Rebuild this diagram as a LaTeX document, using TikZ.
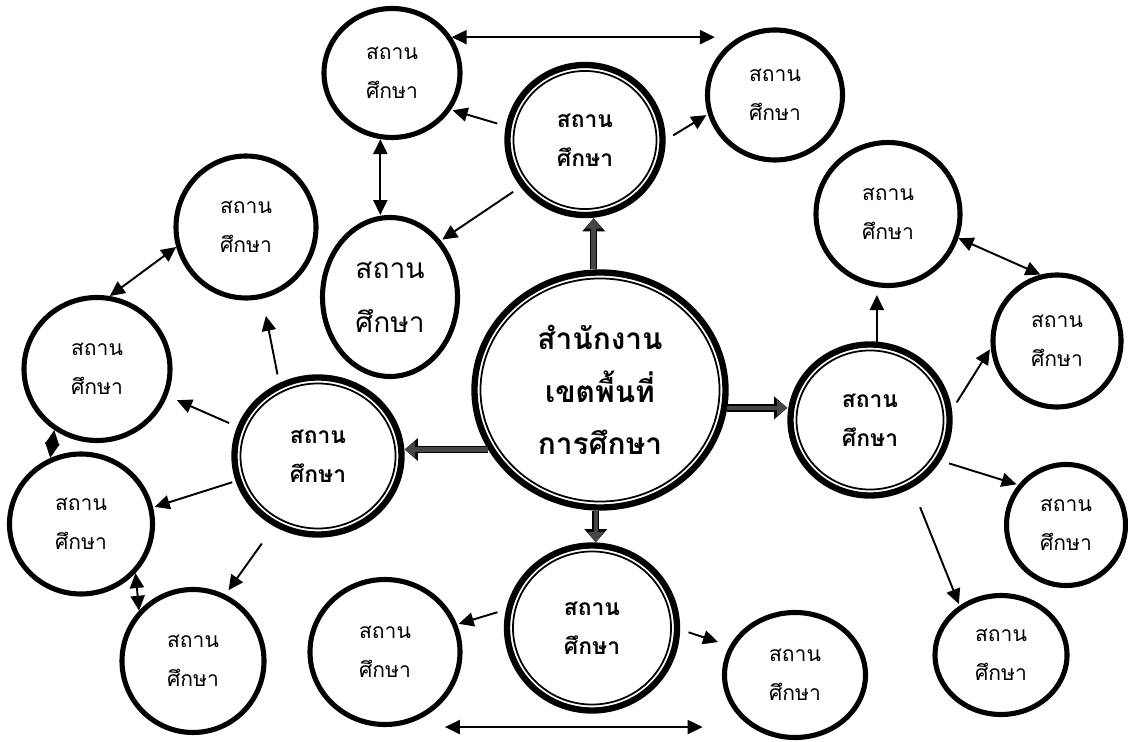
\documentclass[tikz,border=0pt]{standalone}
\usepackage{fontspec}
\newfontfamily\thai[Script=Thai]{Loma}
\usetikzlibrary{shapes.geometric,arrows.meta,calc}
\tikzset{every node/.style={ellipse,draw,line width=2.9pt,inner sep=0pt,align=center,font=\thai\fontsize{12}{22.5}\selectfont}}
\tikzset{sz/.style 2 args={minimum width=(#1-5)*0.02cm,minimum height=(#2-5)*0.02cm}}
\tikzset{ring/.style={line width=3.6pt,font=\thai\bfseries\fontsize{13}{22}\selectfont,
  path picture={\draw[line width=1pt] let \p1=(path picture bounding box.north east),\p2=(path picture bounding box.center)
    in (\p2) ellipse ({\x1-\x2-3.4pt} and {\y1-\y2-3.4pt});}}}
\tikzset{arr/.style={line width=1.1pt,-{Triangle[length=8.5pt,width=8pt]},shorten <=5pt,shorten >=1pt}}
\tikzset{dbl/.style={line width=1.1pt,{Triangle[length=8.5pt,width=8pt]}-{Triangle[length=8.5pt,width=8pt]}}}
\tikzset{big/.style={line width=2.6pt,draw=gray!55!black,-{Triangle[length=6pt,width=9pt]},
  preaction={draw=black,line width=4.2pt,-{Triangle[length=7.5pt,width=12.5pt]}}}}

\begin{document}
\begin{tikzpicture}[x=0.02cm,y=-0.02cm]
  \useasboundingbox (0,0) rectangle (1128,742);
  \node[ring,sz={256}{240},font=\thai\bfseries\fontsize{17}{30}\selectfont] (hub) at (600,390) {สำนักงาน\\เขตพื้นที่\\การศึกษา};
  \node[ring,sz={160}{155}] (ringN) at (585,140) {สถาน\\ศึกษา};
  \node[ring,sz={172}{162}] (ringW) at (318,456) {สถาน\\ศึกษา};
  \node[ring,sz={164}{156}] (ringE) at (870,420) {สถาน\\ศึกษา};
  \node[ring,sz={175}{170}] (ringS) at (592,628) {สถาน\\ศึกษา};

  \node[sz={141}{134}] (tl) at (392,73) {สถาน\\ศึกษา};
  \node[sz={140}{135}] (tr) at (775,95) {สถาน\\ศึกษา};
  \node[sz={140}{164},font=\thai\fontsize{16}{31}\selectfont] (tm) at (390,297) {สถาน\\ศึกษา};
  \node[sz={145}{147}] (l1) at (246,227) {สถาน\\ศึกษา};
  \node[sz={151}{148}] (l2) at (97,369) {สถาน\\ศึกษา};
  \node[sz={148}{145}] (l3) at (81,524) {สถาน\\ศึกษา};
  \node[sz={147}{148}] (bl) at (193,661) {สถาน\\ศึกษา};
  \node[sz={155}{150}] (bml) at (385,652) {สถาน\\ศึกษา};
  \node[sz={146}{130}] (bmr) at (795,675) {สถาน\\ศึกษา};
  \node[sz={149}{148}] (r1) at (888,214) {สถาน\\ศึกษา};
  \node[sz={133}{137}] (r2) at (1057,341) {สถาน\\ศึกษา};
  \node[sz={124}{126}] (r3) at (1066,525) {สถาน\\ศึกษา};
  \node[sz={137}{124}] (r4) at (1001,655) {สถาน\\ศึกษา};

  \draw[big] (hub.93) -- (hub.93 |- ringN.south);
  \draw[big] (hub.268) -- (hub.268 |- ringS.north);
  \draw[big] (hub.208) -- (hub.208 -| ringW.east);
  \draw[big] (hub.-8) -- (hub.-8 -| ringE.west);

  \draw[arr] (ringN.170) -- (tl.-32);
  \draw[arr] (ringN.0) -- (tr.196);
  \draw[arr] (ringN.216) -- (tm.48);
  \draw[dbl] (tl.31) -- (tl.31 -| tr.150);
  \draw[dbl] (tl.-100) -- (tl.-100 |- tm.north);

  \draw[arr,shorten >=10pt] (ringW.118) -- (l1.-77);
  \draw[arr,shorten >=6pt] (ringW.160) -- (l2.-21);
  \draw[arr,shorten <=2pt] (ringW.197) -- (l3.13);
  \draw[arr,shorten <=12pt,shorten >=3pt] (ringW.238) -- (bl.64);
  \draw[dbl] (l1.196) -- (l2.80);
  \draw[dbl] (l2.235) -- (l3.115);
  \draw[dbl] (l3.-42) -- (bl.137);

  \draw[arr,shorten <=0pt,shorten >=4pt] (ringE.85) -- (ringE.85 |- r1.south);
  \draw[arr] (ringE.7) -- (r2.186);
  \draw[arr] (ringE.-30) -- (r3.140);
  \draw[arr,shorten <=12pt] (ringE.-58) -- (r4.130);
  \draw[dbl] (r1.-19) -- (r2.104);

  \draw[arr] (ringS.168) -- (bml.21);
  \draw[arr,shorten >=7pt] (ringS.-1) -- (bmr.156);
  \draw[dbl,shorten >=11pt] ([xshift=1.2cm]bml.south) -- (bml.south -| bmr.west);
\end{tikzpicture}
\end{document}
